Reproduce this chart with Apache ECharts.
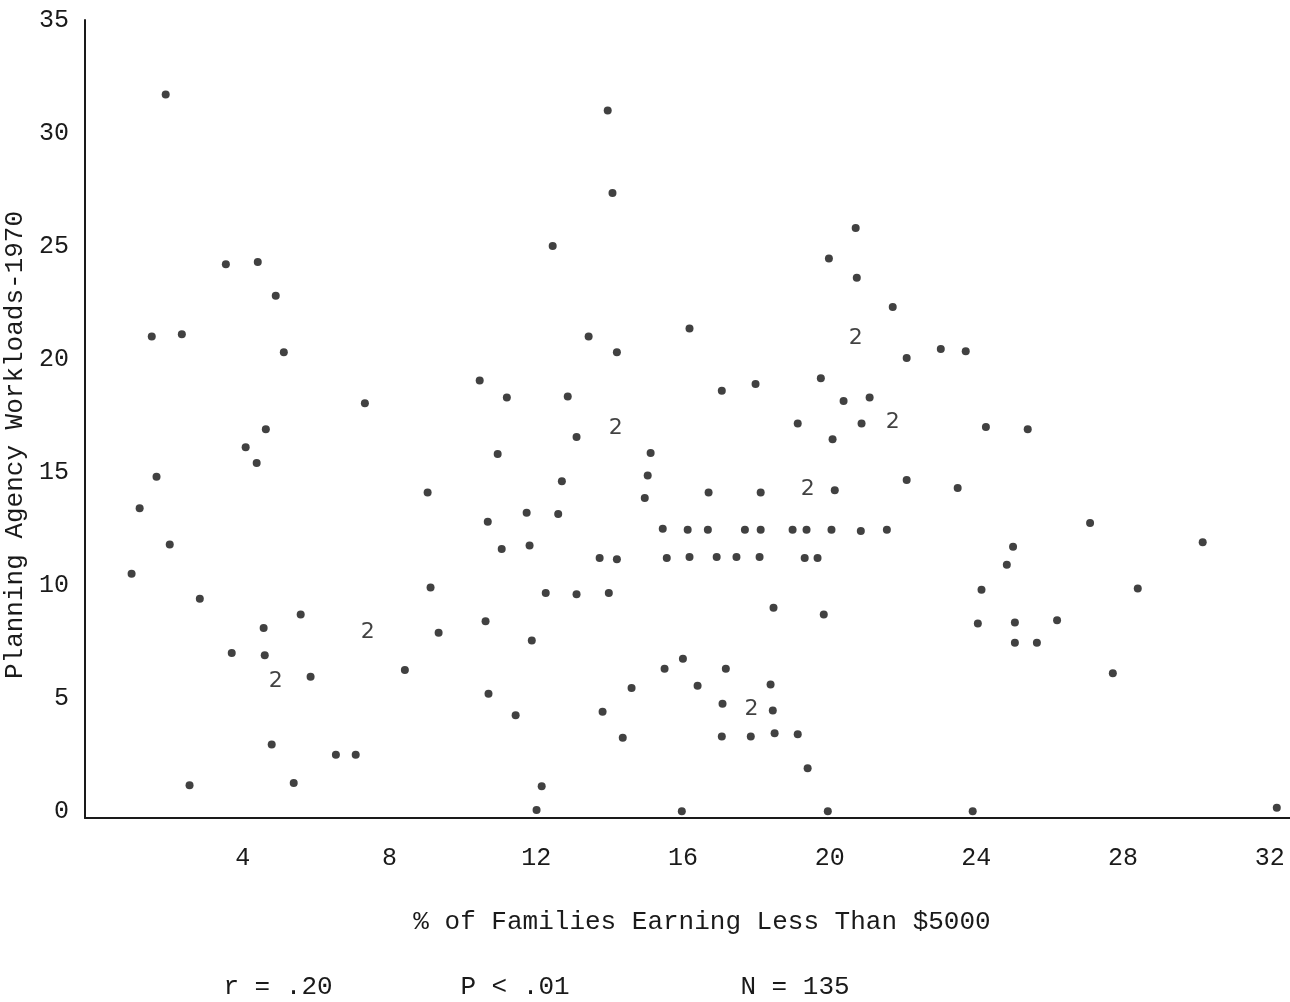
<!DOCTYPE html>
<html>
<head>
<meta charset="utf-8">
<script src="https://cdn.jsdelivr.net/npm/echarts@6/dist/echarts.min.js"></script>
<style>
  html, body { margin: 0; padding: 0; background: #fff; }
  #chart { width: 1290px; height: 1002px; }
</style>
</head>
<body>
<div id="chart"></div>
<script>
// % of families earning less than $5000 (x) and planning agency workloads 1970 (y)
const pctLow = [
  1.90, 1.19, 0.97, 1.52, 2.34, 1.65, 2.01, 2.55, 2.83, 3.54, 4.41, 4.90, 5.12, 4.08, 4.63, 4.38,
  3.70, 4.57, 4.60, 4.79, 5.39, 5.58, 5.85, 6.54, 7.08, 7.33, 8.42, 9.04, 9.12, 9.34,
  13.43, 14.20, 10.46, 11.20, 12.86, 13.10, 10.95, 15.12, 15.04, 12.70, 14.96, 11.74, 12.60, 10.68,
  15.45, 11.06, 11.82, 13.73, 14.20, 12.26, 13.10, 13.98, 10.62, 11.88, 16.00, 15.50, 14.60, 10.70,
  13.81, 11.44, 14.36, 12.15, 12.01, 15.97, 13.95, 14.08, 12.45,
  20.71, 19.98, 20.74, 16.18, 21.72, 22.10, 23.03, 23.71, 19.76, 17.98, 17.06, 20.38, 21.09, 19.13,
  20.87, 24.26, 20.08, 16.70, 18.12, 20.14, 22.10, 23.49,
  16.13, 16.68, 17.69, 18.12, 18.99, 19.37, 20.05, 20.85, 21.56,
  15.56, 16.18, 16.92, 17.46, 18.09, 19.32, 19.67,
  18.47, 19.84, 17.17, 16.40, 18.39, 17.08, 18.45, 17.06, 17.85, 18.50, 19.13, 19.40, 19.95, 23.90,
  25.40, 27.10, 30.17, 25.00, 24.83, 28.40, 24.14, 24.04, 25.05, 26.20, 25.05, 25.65, 27.72, 32.19
];
const workload = [
  31.7, 13.4, 10.5, 21.0, 21.1, 14.8, 11.8, 1.15, 9.4, 24.2, 24.3, 22.8, 20.3, 16.1, 16.9, 15.4,
  7.0, 8.1, 6.9, 2.95, 1.25, 8.7, 5.95, 2.5, 2.5, 18.05, 6.25, 14.1, 9.9, 7.9,
  21.0, 20.3, 19.05, 18.3, 18.35, 16.55, 15.8, 15.85, 14.85, 14.6, 13.85, 13.2, 13.15, 12.8,
  12.5, 11.6, 11.75, 11.2, 11.15, 9.65, 9.6, 9.65, 8.4, 7.55, 6.75, 6.3, 5.45, 5.2,
  4.4, 4.25, 3.25, 1.1, 0.05, 0, 31.0, 27.35, 25.0,
  25.8, 24.45, 23.6, 21.35, 22.3, 20.05, 20.45, 20.35, 19.15, 18.9, 18.6, 18.15, 18.3, 17.15,
  17.15, 17.0, 16.45, 14.1, 14.1, 14.2, 14.65, 14.3,
  12.45, 12.45, 12.45, 12.45, 12.45, 12.45, 12.45, 12.4, 12.45,
  11.2, 11.25, 11.25, 11.25, 11.25, 11.2, 11.2,
  9.0, 8.7, 6.3, 5.55, 5.6, 4.75, 4.45, 3.3, 3.3, 3.45, 3.4, 1.9, 0, 0,
  16.9, 12.75, 11.9, 11.7, 10.9, 9.85, 9.8, 8.3, 8.35, 8.45, 7.45, 7.45, 6.1, 0.15
];

// places where two cases coincide, marked "2" on the original
const pairPctLow = [4.90, 7.41, 14.17, 20.71, 21.72, 19.40, 17.87];
const pairWorkload = [5.75, 7.9, 16.95, 20.9, 17.2, 14.25, 4.5];

const xTicks = [4, 8, 12, 16, 20, 24, 28, 32];
const yTicks = [0, 5, 10, 15, 20, 25, 30, 35];

const xTitle = '% of Families Earning Less Than $5000';
const yTitle = 'Planning Agency Workloads-1970';
const stats = ['r = .20', 'P < .01', 'N = 135'];

const font = '"Liberation Mono", "DejaVu Sans Mono", monospace';
const ink = '#1a1a1a';

const chart = echarts.init(document.getElementById('chart'), null, { renderer: 'canvas' });

chart.setOption({
  backgroundColor: '#fff',
  animation: false,
  grid: { left: 85, right: 0, top: 20, bottom: 184 },
  xAxis: {
    type: 'value',
    min: -0.3,
    max: 32.55,
    splitLine: { show: false },
    axisLine: { onZero: false, lineStyle: { color: ink, width: 2 } },
    axisTick: { show: false },
    axisLabel: {
      customValues: xTicks,
      margin: 28,
      color: ink,
      fontFamily: font,
      fontSize: 25,
    },
  },
  yAxis: {
    type: 'value',
    min: -0.3,
    max: 35,
    splitLine: { show: false },
    axisLine: { onZero: false, lineStyle: { color: ink, width: 2 } },
    axisTick: { show: false },
    axisLabel: {
      customValues: yTicks,
      margin: 16,
      color: ink,
      fontFamily: font,
      fontSize: 25,
    },
  },
  graphic: [
    {
      type: 'text',
      x: 15,
      y: 445,
      rotation: Math.PI / 2,
      style: {
        text: yTitle,
        fill: ink,
        font: '26px ' + font,
        align: 'center',
        verticalAlign: 'middle',
      },
    },
    {
      type: 'text',
      x: 702,
      y: 922,
      style: { text: xTitle, fill: ink, font: '26px ' + font, align: 'center', verticalAlign: 'middle' },
    },
    {
      type: 'text',
      x: 278,
      y: 987,
      style: { text: stats[0], fill: ink, font: '26px ' + font, align: 'center', verticalAlign: 'middle' },
    },
    {
      type: 'text',
      x: 515,
      y: 987,
      style: { text: stats[1], fill: ink, font: '26px ' + font, align: 'center', verticalAlign: 'middle' },
    },
    {
      type: 'text',
      x: 795,
      y: 987,
      style: { text: stats[2], fill: ink, font: '26px ' + font, align: 'center', verticalAlign: 'middle' },
    },
  ],
  series: [
    {
      type: 'scatter',
      symbol: 'circle',
      symbolSize: 8,
      itemStyle: { color: '#111' },
      data: pctLow.map((x, i) => [x, workload[i]]),
    },
    {
      type: 'scatter',
      symbolSize: 1,
      itemStyle: { color: 'rgba(0,0,0,0)' },
      label: {
        show: true,
        position: 'inside',
        formatter: '2',
        color: '#111',
        fontFamily: '"DejaVu Sans", sans-serif',
        fontSize: 22,
      },
      data: pairPctLow.map((x, i) => [x, pairWorkload[i]]),
    },
  ],
});

window.addEventListener('resize', () => chart.resize());
</script>
</body>
</html>
